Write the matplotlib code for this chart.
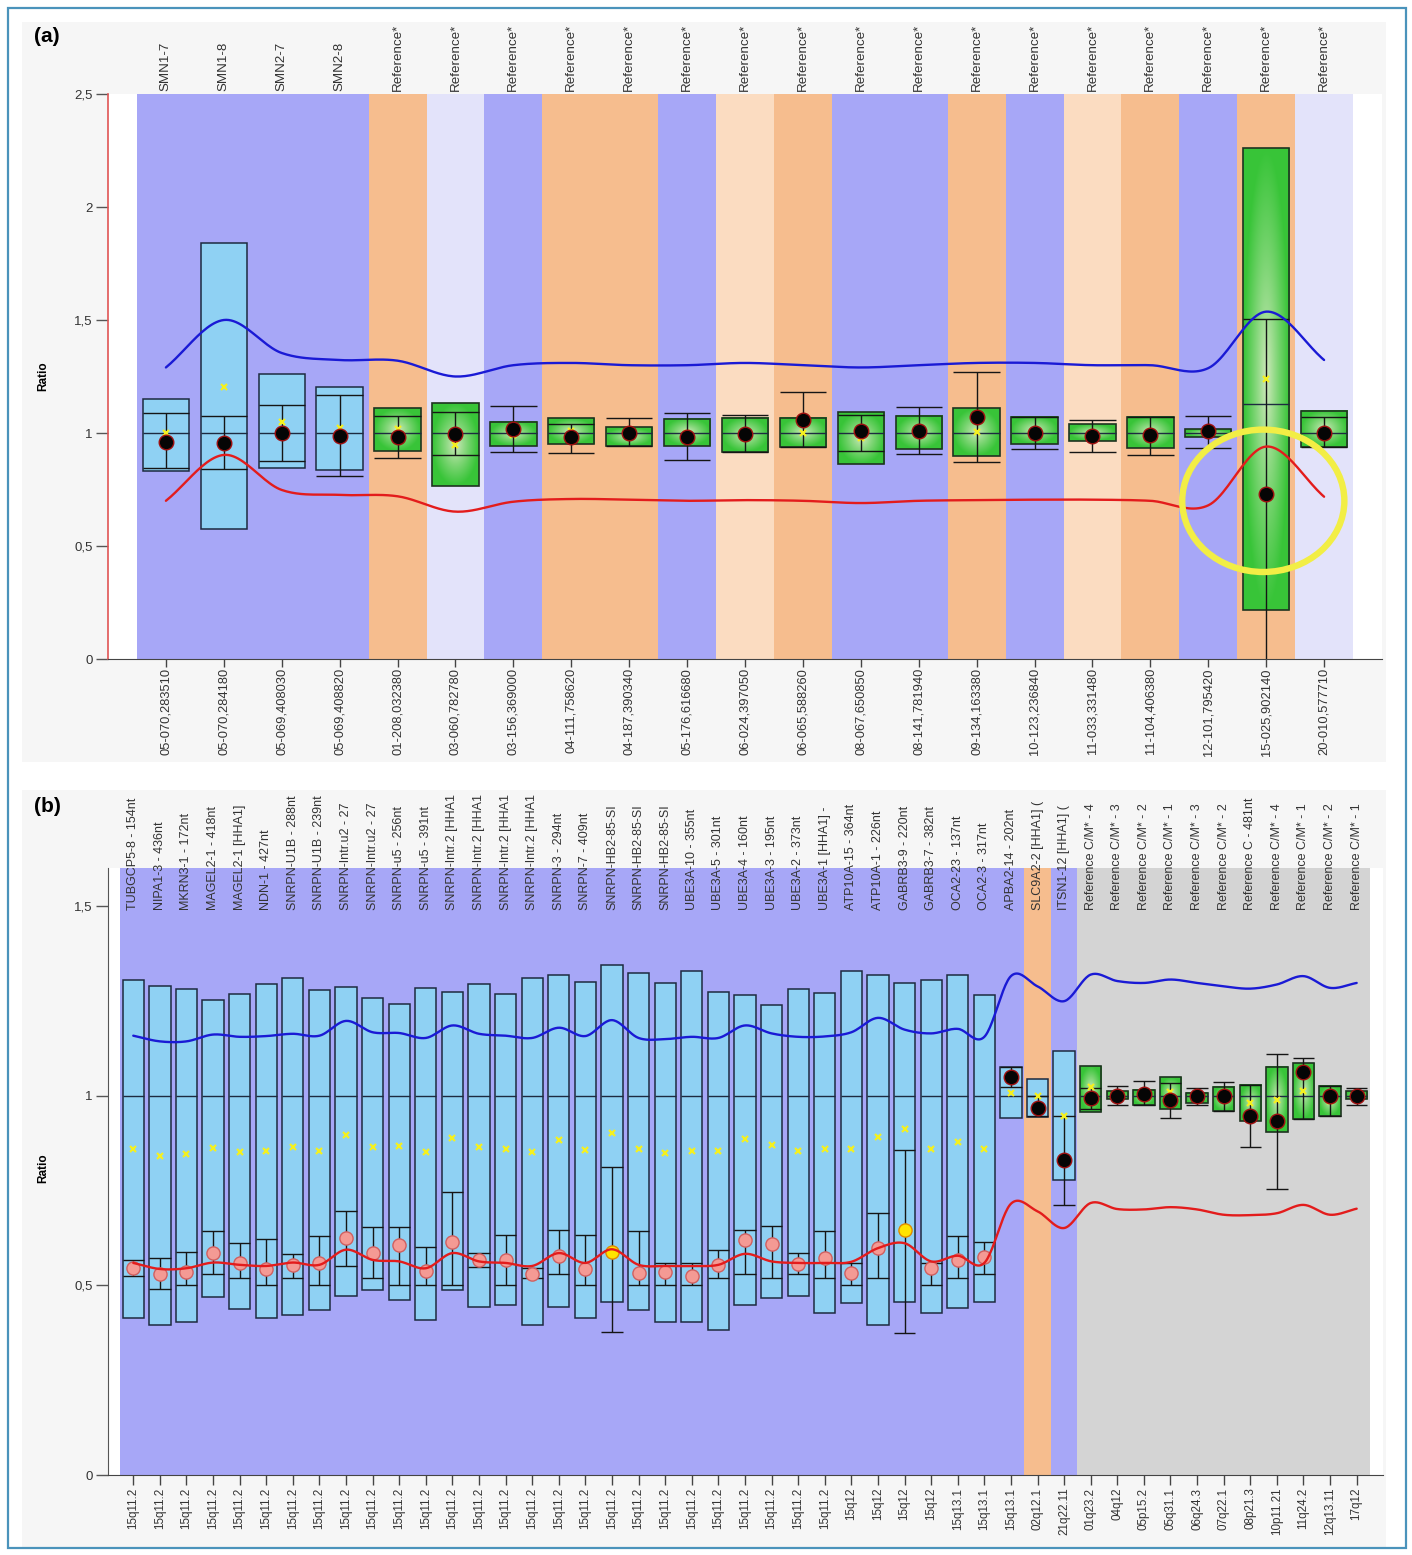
import numpy as np
import matplotlib
matplotlib.use('Agg')
import matplotlib.pyplot as plt
from matplotlib.patches import Rectangle, Ellipse
from matplotlib.ticker import FuncFormatter

plt.rcParams['font.family'] = ['Liberation Sans', 'DejaVu Sans']

W, H = 1412, 1555

# ---------------- Panel (a) data ----------------
a_top_labels = ["SMN1-7", "SMN1-8", "SMN2-7", "SMN2-8"] + ["Reference*"] * 17
a_bottom_labels = ["05-070,283510", "05-070,284180", "05-069,408030", "05-069,408820",
                   "01-208,032380", "03-060,782780", "03-156,369000", "04-111,758620",
                   "04-187,390340", "05-176,616680", "06-024,397050", "06-065,588260",
                   "08-067,650850", "08-141,781940", "09-134,163380", "10-123,236840",
                   "11-033,331480", "11-104,406380", "12-101,795420", "15-025,902140",
                   "20-010,577710"]
a_bands = ['B', 'B', 'B', 'B', 'O', 'L', 'B', 'O', 'O', 'B', 'P', 'O', 'B', 'B', 'O', 'B',
           'P', 'O', 'B', 'O', 'L']
a_box_style = ['blue'] * 4 + ['green'] * 17
a_box_lo = [0.833, 0.574, 0.847, 0.836, 0.920, 0.765, 0.942, 0.951, 0.944, 0.942, 0.914,
            0.936, 0.865, 0.928, 0.898, 0.951, 0.966, 0.932, 0.984, 0.217, 0.936]
a_box_hi = [1.149, 1.840, 1.260, 1.205, 1.109, 1.131, 1.050, 1.065, 1.028, 1.062, 1.065,
            1.065, 1.095, 1.077, 1.109, 1.072, 1.040, 1.072, 1.016, 2.260, 1.099]
a_whisk_lo = [0.844, 0.841, 0.876, 0.810, 0.891, 0.903, 0.914, 0.910, 0.944, 0.881, 0.914,
              0.936, 0.922, 0.907, 0.870, 0.928, 0.914, 0.903, 0.935, -0.05, 0.936]
a_whisk_hi = [1.090, 1.077, 1.124, 1.168, 1.075, 1.092, 1.121, 1.040, 1.065, 1.087, 1.080,
              1.180, 1.080, 1.117, 1.271, 1.072, 1.058, 1.072, 1.077, 1.503, 1.069]
a_mid = [1.0] * 19 + [1.128, 1.0]
a_ratio = [0.962, 0.957, 1.001, 0.987, 0.981, 0.996, 1.019, 0.984, 1.001, 0.984, 0.996,
           1.057, 1.010, 1.009, 1.069, 1.000, 0.988, 0.991, 1.010, 0.730, 1.000]
a_mean = [1.000, 1.205, 1.050, 1.023, 1.016, 0.947, 0.990, 1.010, 1.000, 1.000, 1.000,
          1.001, 0.976, 1.000, 1.003, 1.000, 0.990, 0.990, 1.000, 1.237, 1.000]
a_dot_style = ['black'] * 21
a_upper = [1.29, 1.50, 1.354, 1.323, 1.32, 1.25, 1.30, 1.31, 1.30, 1.30, 1.31, 1.30, 1.29,
           1.30, 1.31, 1.31, 1.30, 1.30, 1.287, 1.537, 1.323]
a_lower = [0.70, 0.903, 0.748, 0.726, 0.72, 0.652, 0.696, 0.708, 0.705, 0.70, 0.703, 0.70,
           0.69, 0.70, 0.703, 0.705, 0.705, 0.70, 0.68, 0.94, 0.718]
a_yticks = [0, 0.5, 1, 1.5, 2, 2.5]

# ---------------- Panel (b) data ----------------
b_top_labels = ["TUBGCP5-8 - 154nt", "NIPA1-3 - 436nt", "MKRN3-1 - 172nt", "MAGEL2-1 - 418nt",
                "MAGEL2-1 [HHA1]", "NDN-1 - 427nt", "SNRPN-U1B - 288nt", "SNRPN-U1B - 239nt",
                "SNRPN-Intr.u2 - 27", "SNRPN-Intr.u2 - 27", "SNRPN-u5 - 256nt", "SNRPN-u5 - 391nt",
                "SNRPN-Intr.2 [HHA1]", "SNRPN-Intr.2 [HHA1]", "SNRPN-Intr.2 [HHA1]",
                "SNRPN-Intr.2 [HHA1]", "SNRPN-3 - 294nt", "SNRPN-7 - 409nt", "SNRPN-HB2-85-SI",
                "SNRPN-HB2-85-SI", "SNRPN-HB2-85-SI", "UBE3A-10 - 355nt", "UBE3A-5 - 301nt",
                "UBE3A-4 - 160nt", "UBE3A-3 - 195nt", "UBE3A-2 - 373nt", "UBE3A-1 [HHA1] -",
                "ATP10A-15 - 364nt", "ATP10A-1 - 226nt", "GABRB3-9 - 220nt", "GABRB3-7 - 382nt",
                "OCA2-23 - 137nt", "OCA2-3 - 317nt", "APBA2-14 - 202nt", "SLC9A2-2 [HHA1] (",
                "ITSN1-12 [HHA1] (", "Reference C/M* - 4", "Reference C/M* - 3",
                "Reference C/M* - 2", "Reference C/M* - 1", "Reference C/M* - 3",
                "Reference C/M* - 2", "Reference C - 481nt", "Reference C/M* - 4",
                "Reference C/M* - 1", "Reference C/M* - 2", "Reference C/M* - 1"]
b_bottom_labels = (["15q11.2"] * 27 + ["15q12"] * 4 + ["15q13.1"] * 3 +
                   ["02q12.1", "21q22.11", "01q23.2", "04q12", "05p15.2", "05q31.1", "06q24.3",
                    "07q22.1", "08p21.3", "10p11.21", "11q24.2", "12q13.11", "17q12"])
b_bands = ['B'] * 34 + ['O', 'B'] + ['G'] * 11
b_box_style = ['blue'] * 36 + ['green'] * 11
b_box_hi = [1.306, 1.288, 1.282, 1.253, 1.268, 1.293, 1.309, 1.278, 1.287, 1.258, 1.242,
            1.284, 1.273, 1.293, 1.268, 1.311, 1.318, 1.300, 1.343, 1.324, 1.297, 1.328,
            1.274, 1.264, 1.240, 1.282, 1.271, 1.328, 1.317, 1.297, 1.304, 1.319, 1.265,
            1.076, 1.045, 1.117,
            1.077, 1.011, 1.016, 1.049, 1.007, 1.023, 1.029, 1.076, 1.086, 1.026, 1.011]
b_box_lo = [0.414, 0.396, 0.404, 0.470, 0.438, 0.414, 0.422, 0.435, 0.472, 0.488, 0.462,
            0.409, 0.488, 0.443, 0.449, 0.396, 0.443, 0.414, 0.456, 0.435, 0.404, 0.404,
            0.383, 0.449, 0.467, 0.472, 0.427, 0.454, 0.396, 0.456, 0.427, 0.441, 0.456,
            0.941, 0.943, 0.778,
            0.956, 0.991, 0.974, 0.965, 0.980, 0.959, 0.932, 0.903, 0.939, 0.945, 0.990]
b_whisk_hi = [0.566, 0.572, 0.587, 0.642, 0.611, 0.623, 0.583, 0.629, 0.697, 0.653, 0.653,
              0.602, 0.745, 0.585, 0.633, 0.545, 0.646, 0.633, 0.812, 0.644, 0.560, 0.560,
              0.594, 0.646, 0.657, 0.585, 0.644, 0.560, 0.690, 0.856, 0.560, 0.631, 0.613,
              1.076, 1.000, 0.945,
              1.020, 1.026, 1.038, 1.032, 1.020, 1.035, 1.029, 1.110, 1.098, 1.026, 1.020]
b_whisk_lo = [0.525, 0.490, 0.500, 0.530, 0.520, 0.500, 0.520, 0.500, 0.551, 0.520, 0.500,
              0.500, 0.500, 0.548, 0.500, 0.520, 0.530, 0.500, 0.377, 0.500, 0.500, 0.500,
              0.520, 0.530, 0.520, 0.530, 0.520, 0.500, 0.520, 0.375, 0.500, 0.520, 0.530,
              1.023, 0.945, 0.712,
              0.965, 0.974, 0.974, 0.941, 0.974, 0.959, 0.865, 0.755, 0.939, 0.945, 0.974]
b_mid = [1.0] * 47
b_ratio = [0.545, 0.530, 0.535, 0.585, 0.559, 0.544, 0.554, 0.560, 0.624, 0.585, 0.605,
           0.539, 0.614, 0.567, 0.567, 0.530, 0.576, 0.543, 0.589, 0.532, 0.534, 0.525,
           0.554, 0.620, 0.609, 0.557, 0.572, 0.532, 0.598, 0.645, 0.545, 0.567, 0.574,
           1.049, 0.967, 0.829,
           0.994, 1.000, 1.005, 0.988, 1.000, 1.000, 0.947, 0.932, 1.062, 1.000, 1.000]
b_mean = [0.859, 0.840, 0.847, 0.862, 0.851, 0.853, 0.865, 0.855, 0.897, 0.864, 0.866,
          0.851, 0.887, 0.865, 0.858, 0.851, 0.882, 0.856, 0.902, 0.859, 0.850, 0.855,
          0.853, 0.886, 0.871, 0.855, 0.859, 0.859, 0.891, 0.912, 0.859, 0.877, 0.859,
          1.007, 1.000, 0.946,
          1.023, 1.000, 1.000, 1.010, 1.000, 1.000, 0.981, 0.988, 1.011, 0.985, 1.000]
b_dot_style = (['pink'] * 18 + ['yellow'] + ['pink'] * 10 + ['yellow'] + ['pink'] * 3 +
               ['black'] * 14)
b_upper = [1.158, 1.143, 1.143, 1.161, 1.155, 1.157, 1.163, 1.158, 1.197, 1.167, 1.165,
           1.152, 1.185, 1.163, 1.158, 1.152, 1.179, 1.157, 1.199, 1.152, 1.149, 1.155,
           1.152, 1.185, 1.164, 1.155, 1.156, 1.167, 1.205, 1.174, 1.164, 1.176, 1.155,
           1.315, 1.288, 1.249,
           1.319, 1.302, 1.297, 1.306, 1.297, 1.288, 1.282, 1.293, 1.315, 1.284, 1.297]
b_lower = [0.559, 0.543, 0.545, 0.560, 0.554, 0.551, 0.560, 0.554, 0.594, 0.567, 0.563,
           0.545, 0.585, 0.563, 0.559, 0.551, 0.585, 0.559, 0.595, 0.554, 0.551, 0.551,
           0.554, 0.583, 0.563, 0.559, 0.559, 0.562, 0.598, 0.611, 0.563, 0.578, 0.559,
           0.715, 0.695, 0.651,
           0.717, 0.701, 0.700, 0.706, 0.700, 0.686, 0.685, 0.690, 0.712, 0.686, 0.702]
b_yticks = [0, 0.5, 1, 1.5]

BAND_COLORS = {'B': '#a7a7f7', 'O': '#f6bd8e', 'P': '#fbdcc1', 'L': '#e3e3fa', 'G': '#d4d4d4'}
DOT_STYLE = {'black': ('#050505', '#a01010', 10.5),
             'pink': ('#f49a94', '#d06060', 9.5),
             'yellow': ('#ffe400', '#e08a00', 9.5)}


def catmull(ys, n=24):
    ys = np.asarray(ys, float)
    xs = np.arange(len(ys), dtype=float)
    yp = np.concatenate([[2 * ys[0] - ys[1]], ys, [2 * ys[-1] - ys[-2]]])
    t = np.linspace(0, 1, n, endpoint=False)
    ox, oy = [], []
    for i in range(len(ys) - 1):
        p0, p1, p2, p3 = yp[i], yp[i + 1], yp[i + 2], yp[i + 3]
        y = 0.5 * (2 * p1 + (-p0 + p2) * t + (2 * p0 - 5 * p1 + 4 * p2 - p3) * t ** 2 +
                   (-p0 + 3 * p1 - 3 * p2 + p3) * t ** 3)
        ox.append(xs[i] + t)
        oy.append(y)
    ox.append([xs[-1]])
    oy.append([ys[-1]])
    return np.concatenate(ox), np.concatenate(oy)


def green_img():
    yy, xx = np.mgrid[-1:1:90j, -1:1:40j]
    r = np.clip(np.hypot(xx, yy), 0, 1) ** 0.85
    c0 = np.array([0.84, 0.92, 0.76])
    c1 = np.array([0.22, 0.77, 0.22])
    return c0 + (c1 - c0) * r[..., None]


GREEN = green_img()


def draw_panel(ax, bands, box_style, lo, hi, wlo, whi, mid, ratio, mean, dot_style,
               upper, lower, width=0.8):
    n = len(bands)
    x = np.arange(n)
    for i, b in enumerate(bands):
        ax.axvspan(i - 0.5, i + 0.5, color=BAND_COLORS[b], lw=0, zorder=0.5)
    for i in range(n):
        x0 = i - width / 2
        if box_style[i] == 'green':
            ax.imshow(GREEN, extent=(x0, x0 + width, lo[i], hi[i]), aspect='auto',
                      origin='lower', interpolation='bilinear', zorder=2)
            ax.add_patch(Rectangle((x0, lo[i]), width, hi[i] - lo[i], fill=False,
                                   ec='#1e3320', lw=1.2, zorder=2.1))
        else:
            ax.add_patch(Rectangle((x0, lo[i]), width, hi[i] - lo[i], fc='#8fd1f3',
                                   ec='#1d2a40', lw=1.1, zorder=2))
    ax.hlines(mid, x - width / 2, x + width / 2, color='#1d2a40', lw=1.0, zorder=2.2)
    ax.vlines(x, wlo, whi, color='#151515', lw=1.0, zorder=2.3)
    ax.hlines(wlo, x - width / 2, x + width / 2, color='#151515', lw=1.0, zorder=2.3)
    ax.hlines(whi, x - width / 2, x + width / 2, color='#151515', lw=1.0, zorder=2.3)

    ux, uy = catmull(upper)
    lx, ly = catmull(lower)
    ax.plot(ux, uy, color='#1a1ad5', lw=1.7, zorder=3.5, solid_capstyle='round')
    ax.plot(lx, ly, color='#e31c1c', lw=1.7, zorder=3.5, solid_capstyle='round')

    ax.plot(x, mean, 'x', ms=4.5, mew=1.6, color='#f4f020', zorder=3.0, ls='none')
    ratio = np.asarray(ratio)
    ds = np.asarray(dot_style)
    for style, (fc, ec, ms) in DOT_STYLE.items():
        m = ds == style
        if m.any():
            z = 3.2 if style != 'black' else 4
            ax.plot(x[m], ratio[m], 'o', ms=ms, mfc=fc, mec=ec, mew=1.0, zorder=z, ls='none')


fmt = FuncFormatter(lambda v, p: ('%g' % v).replace('.', ','))

fig = plt.figure(figsize=(W / 100, H / 100), dpi=100)
fig.add_artist(Rectangle((22 / W, 1 - 762 / H), (1386 - 22) / W, (762 - 22) / H,
                         transform=fig.transFigure, fc='#f6f6f6', ec='none', zorder=-5))
fig.add_artist(Rectangle((22 / W, 1 - 1548 / H), (1386 - 22) / W, (1548 - 790) / H,
                         transform=fig.transFigure, fc='#f6f6f6', ec='none', zorder=-5))
fig.add_artist(Rectangle((8 / W, 1 - 1548 / H), (1406 - 8) / W, (1548 - 8) / H,
                         transform=fig.transFigure, fill=False, ec='#4a93bb', lw=1.6,
                         zorder=10))

# ---------- Panel (a) ----------
ax_a = fig.add_axes([108 / W, 1 - 659 / H, (1382 - 108) / W, (659 - 94) / H])
draw_panel(ax_a, a_bands, a_box_style, a_box_lo, a_box_hi, a_whisk_lo, a_whisk_hi, a_mid,
           a_ratio, a_mean, a_dot_style, a_upper, a_lower)
ax_a.add_patch(Ellipse((18.95, 0.70), 2.8, 0.63, fill=False, ec='#f2ee45', lw=4.6, zorder=6))
ax_a.set_xlim(-1, 21)
ax_a.set_ylim(0, 2.5)
ax_a.set_xticks(range(len(a_bottom_labels)))
ax_a.set_xticklabels(a_bottom_labels, rotation=90, fontsize=9.3, color='#333333')
ax_a.set_yticks(a_yticks)
ax_a.yaxis.set_major_formatter(fmt)
ax_a.tick_params(axis='y', length=9, width=1, color='#555555', labelsize=9.5,
                 labelcolor='#333333', pad=2)
ax_a.tick_params(axis='x', length=6, width=1, color='#444444', pad=0.5)
for s in ('top', 'right'):
    ax_a.spines[s].set_visible(False)
ax_a.spines['left'].set_color('#e05555')
ax_a.spines['left'].set_linewidth(1.2)
ax_a.spines['bottom'].set_color('#444444')
sec = ax_a.secondary_xaxis('top')
sec.set_xticks(range(len(a_top_labels)))
sec.set_xticklabels(a_top_labels, rotation=90, fontsize=9.6, color='#333333')
sec.tick_params(length=0, pad=2)
sec.spines['top'].set_visible(False)

# ---------- Panel (b) ----------
ax_b = fig.add_axes([108 / W, 1 - 1475 / H, (1383 - 108) / W, (1475 - 868) / H])
draw_panel(ax_b, b_bands, b_box_style, b_box_lo, b_box_hi, b_whisk_lo, b_whisk_hi, b_mid,
           b_ratio, b_mean, b_dot_style, b_upper, b_lower)
ax_b.set_xlim(-0.95, 46.99)
ax_b.set_ylim(0, 1.6)
ax_b.set_xticks(range(len(b_bottom_labels)))
ax_b.set_xticklabels(b_bottom_labels, rotation=90, fontsize=8.4, color='#333333')
ax_b.set_yticks(b_yticks)
ax_b.yaxis.set_major_formatter(fmt)
ax_b.tick_params(axis='y', length=9, width=1, color='#555555', labelsize=9.5,
                 labelcolor='#333333', pad=2)
ax_b.tick_params(axis='x', length=7, width=1, color='#444444', pad=2)
for s in ('top', 'right'):
    ax_b.spines[s].set_visible(False)
ax_b.spines['left'].set_color('#555555')
ax_b.spines['bottom'].set_color('#444444')

clip_rect = Rectangle((0, 1 - 1475 / H), 1, (1475 - 795) / H, transform=fig.transFigure)
for i, lab in enumerate(b_top_labels):
    t = ax_b.text(i, 1.49, lab, rotation=90, ha='center', va='bottom', fontsize=9,
                  color='#333333', zorder=6, clip_on=True)
    t.set_clip_path(clip_rect)

# ---------- figure texts ----------
fig.text(34 / W, 1 - 36 / H, '(a)', fontsize=15, fontweight='bold', va='center', ha='left')
fig.text(34 / W, 1 - 806 / H, '(b)', fontsize=15, fontweight='bold', va='center', ha='left')
fig.text(43 / W, 1 - 376 / H, 'Ratio', rotation=90, fontsize=8.5, fontweight='bold',
         ha='center', va='center')
fig.text(43 / W, 1 - 1168 / H, 'Ratio', rotation=90, fontsize=8.5, fontweight='bold',
         ha='center', va='center')

fig.savefig('out.png', dpi=100)
